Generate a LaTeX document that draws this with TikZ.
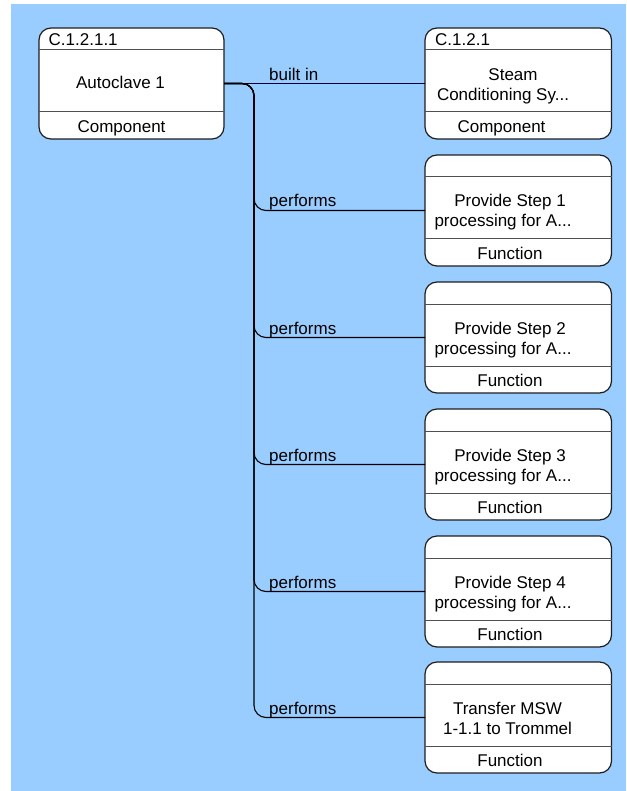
\documentclass[tikz,border=0pt]{standalone}
\usepackage{fontspec}
\setmainfont{Liberation Sans}
\usetikzlibrary{calc}
\definecolor{canvas}{HTML}{99CCFF}
\definecolor{edge}{HTML}{1E1E1E}
\definecolor{rule}{HTML}{505050}
% three full stops marking a truncated title
\newcommand\elide{...}
\begin{document}
\begin{tikzpicture}[x=1pt,y=-1pt,
  card/.style={draw=edge, line width=1.2pt, fill=white, rounded corners=12pt,
    minimum height=111pt, inner sep=0pt, outer sep=0pt},
  divider/.style={draw=rule, line width=1pt},
  txt/.style={inner sep=0pt, font=\fontsize{17}{20}\selectfont},
  conn/.style={draw=black, line width=1.1pt, rounded corners=12pt},
  flat/.style={draw=black!80!blue, line width=0.9pt},
]
\useasboundingbox (0,0) rectangle (626,791);
\fill[canvas] (11,4) rectangle (626,791);

% source component
\node[card, minimum width=185pt] (src) at (131.5,83.5) {};
\draw[divider] ([yshift=-22pt]src.north west) -- ([yshift=-22pt]src.north east);
\draw[divider] ([yshift=27pt]src.south west) -- ([yshift=27pt]src.south east);
\node[txt, anchor=base west] (src-id) at (48.5,45.5) {C.1.2.1.1};
\node[txt, anchor=base] (src-name) at (120.5,89) {Autoclave 1};
\node[txt, anchor=base] (src-kind) at (121.5,133) {Component};

% containing component
\node[card, minimum width=186.5pt] (dst) at (518.25,83.5) {};
\draw[divider] ([yshift=-22pt]dst.north west) -- ([yshift=-22pt]dst.north east);
\draw[divider] ([yshift=27pt]dst.south west) -- ([yshift=27pt]dst.south east);
\node[txt, anchor=base west] (dst-id) at (435,45.5) {C.1.2.1};
\node[txt, anchor=base] (dst-name-a) at (513,80.5) {Steam};
\node[txt, anchor=base] (dst-name-b) at (503,100.5) {Conditioning Sy\elide};
\node[txt, anchor=base] (dst-kind) at (501.5,133) {Component};

% built-in link
\draw[flat] (src.east) -- (dst.west);
\node[txt, anchor=base west] (lbl-built) at (269,80.5) {built in};

% trunk bend point shared by the "performs" links
\coordinate (bend) at (254,83.5);

% functions
\foreach \i/\top/\ca/\la/\cb/\lb in {
  1/155/510/Provide Step 1/503/processing for A\elide,
  2/282/510/Provide Step 2/503/processing for A\elide,
  3/409/510/Provide Step 3/503/processing for A\elide,
  4/536/510/Provide Step 4/503/processing for A\elide,
  5/662/507.5/Transfer MSW/507.5/1-1.1 to Trommel}{
  \node[card, minimum width=186.5pt] (f\i) at (518.25,\top+55.5) {};
  \draw[divider] ([yshift=-22pt]f\i.north west) -- ([yshift=-22pt]f\i.north east);
  \draw[divider] ([yshift=27pt]f\i.south west) -- ([yshift=27pt]f\i.south east);
  \node[txt, anchor=base] (f\i-a) at (\ca,\top+52) {\la};
  \node[txt, anchor=base] (f\i-b) at (\cb,\top+72) {\lb};
  \node[txt, anchor=base] (f\i-kind) at (510,\top+104) {Function};
  \draw[conn] (src.east) -- (bend) -- (bend |- f\i.west) -- (f\i.west);
  \node[txt, anchor=base west] (lbl-f\i) at ($(bend |- f\i.west)+(15,-3.5)$) {performs};
}
\end{tikzpicture}
\end{document}
